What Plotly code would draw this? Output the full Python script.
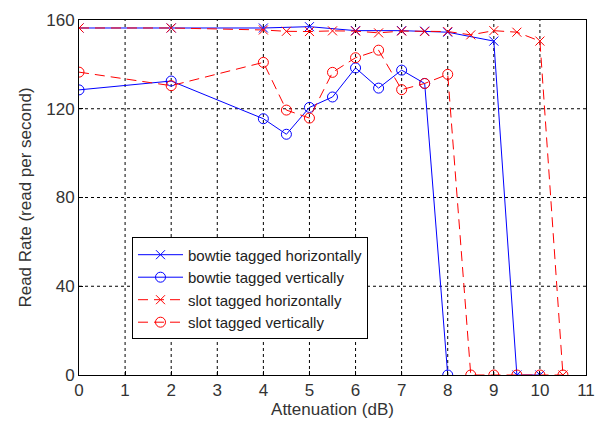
import plotly.graph_objects as go

# Data
bh_x = [0, 2, 4, 5, 6, 7, 7.5, 8, 9, 9.5, 10]
bh_y = [156.4, 156.4, 156.4, 157, 155.2, 155.2, 155, 154.5, 150.5, 0, 0]

bv_x = [0, 2, 4, 4.5, 5, 5.5, 6, 6.5, 7, 7.5, 8]
bv_y = [128.5, 132.5, 115.5, 108.5, 120.6, 125.3, 138.4, 129.3, 137.4, 131.4, 0]

sh_x = [0, 2, 4, 4.5, 5, 5.5, 6, 6.5, 7, 7.5, 8, 8.5, 9, 9.5, 10, 10.5]
sh_y = [156.4, 156.4, 155.5, 154.9, 154.8, 155.1, 155, 154.2, 155, 154.8, 154.8, 153.3, 155.2, 154.5, 150.5, 0]

sv_x = [0, 2, 4, 4.5, 5, 5.5, 6, 6.5, 7, 7.5, 8, 8.5, 9, 9.5, 10, 10.5]
sv_y = [136.5, 130.4, 140.9, 119.4, 115.8, 136.4, 143, 146.4, 128.6, 131.4, 135.5, 0, 0, 0, 0, 0]

x_ticks = list(range(0, 12))
y_ticks = [0, 40, 80, 120, 160]

BLUE = "#0000ff"
RED = "#ff0000"

fig = go.Figure()
fig.add_trace(go.Scatter(x=bh_x, y=bh_y, name="bowtie tagged horizontally", mode="lines+markers",
                         line=dict(color=BLUE, width=1),
                         marker=dict(symbol="x-thin-open", size=9, line=dict(color=BLUE, width=1), color=BLUE)))
fig.add_trace(go.Scatter(x=bv_x, y=bv_y, name="bowtie tagged vertically", mode="lines+markers",
                         line=dict(color=BLUE, width=1),
                         marker=dict(symbol="circle-open", size=10, line=dict(color=BLUE, width=1), color=BLUE)))
fig.add_trace(go.Scatter(x=sh_x, y=sh_y, name="slot tagged horizontally", mode="lines+markers",
                         line=dict(color=RED, width=1, dash="10px,6px"),
                         marker=dict(symbol="x-thin-open", size=9, line=dict(color=RED, width=1), color=RED)))
fig.add_trace(go.Scatter(x=sv_x, y=sv_y, name="slot tagged vertically", mode="lines+markers",
                         line=dict(color=RED, width=1, dash="10px,6px"),
                         marker=dict(symbol="circle-open", size=10, line=dict(color=RED, width=1), color=RED)))

# dotted grid lines drawn as shapes
shapes = []
for xv in x_ticks[1:-1]:
    shapes.append(dict(type="line", xref="x", yref="y", x0=xv, x1=xv, y0=0, y1=160,
                       line=dict(color="black", width=1, dash="3px,3px"), layer="below"))
for yv in y_ticks[1:-1]:
    shapes.append(dict(type="line", xref="x", yref="y", x0=0, x1=11, y0=yv, y1=yv,
                       line=dict(color="black", width=1, dash="3px,3px"), layer="below"))

fig.update_layout(
    width=606, height=423,
    margin=dict(l=79, r=19, t=11, b=47),
    paper_bgcolor="white", plot_bgcolor="white",
    font=dict(family="Liberation Sans, Arial, sans-serif", size=17, color="#333333"),
    shapes=shapes,
    showlegend=True,
    legend=dict(x=1.15 / 11, y=62 / 160, xanchor="left", yanchor="top",
                bordercolor="black", borderwidth=1, bgcolor="white",
                font=dict(size=15, color="#222222"), tracegroupgap=0, itemwidth=45),
    xaxis=dict(range=[0, 11], tickvals=x_ticks, showgrid=False, zeroline=False,
               showline=True, linecolor="black", linewidth=1, mirror=True,
               ticks="inside", ticklen=4, tickcolor="black",
               tickfont=dict(size=17),
               title=dict(text="Attenuation (dB)", standoff=0, font=dict(size=17))),
    yaxis=dict(range=[0, 160], tickvals=y_ticks, showgrid=False, zeroline=False,
               showline=True, linecolor="black", linewidth=1, mirror=True,
               ticks="inside", ticklen=4, tickcolor="black",
               tickfont=dict(size=17),
               title=dict(text="Read Rate (read per second)", standoff=10, font=dict(size=17))),
)

fig.write_html("out.html")
